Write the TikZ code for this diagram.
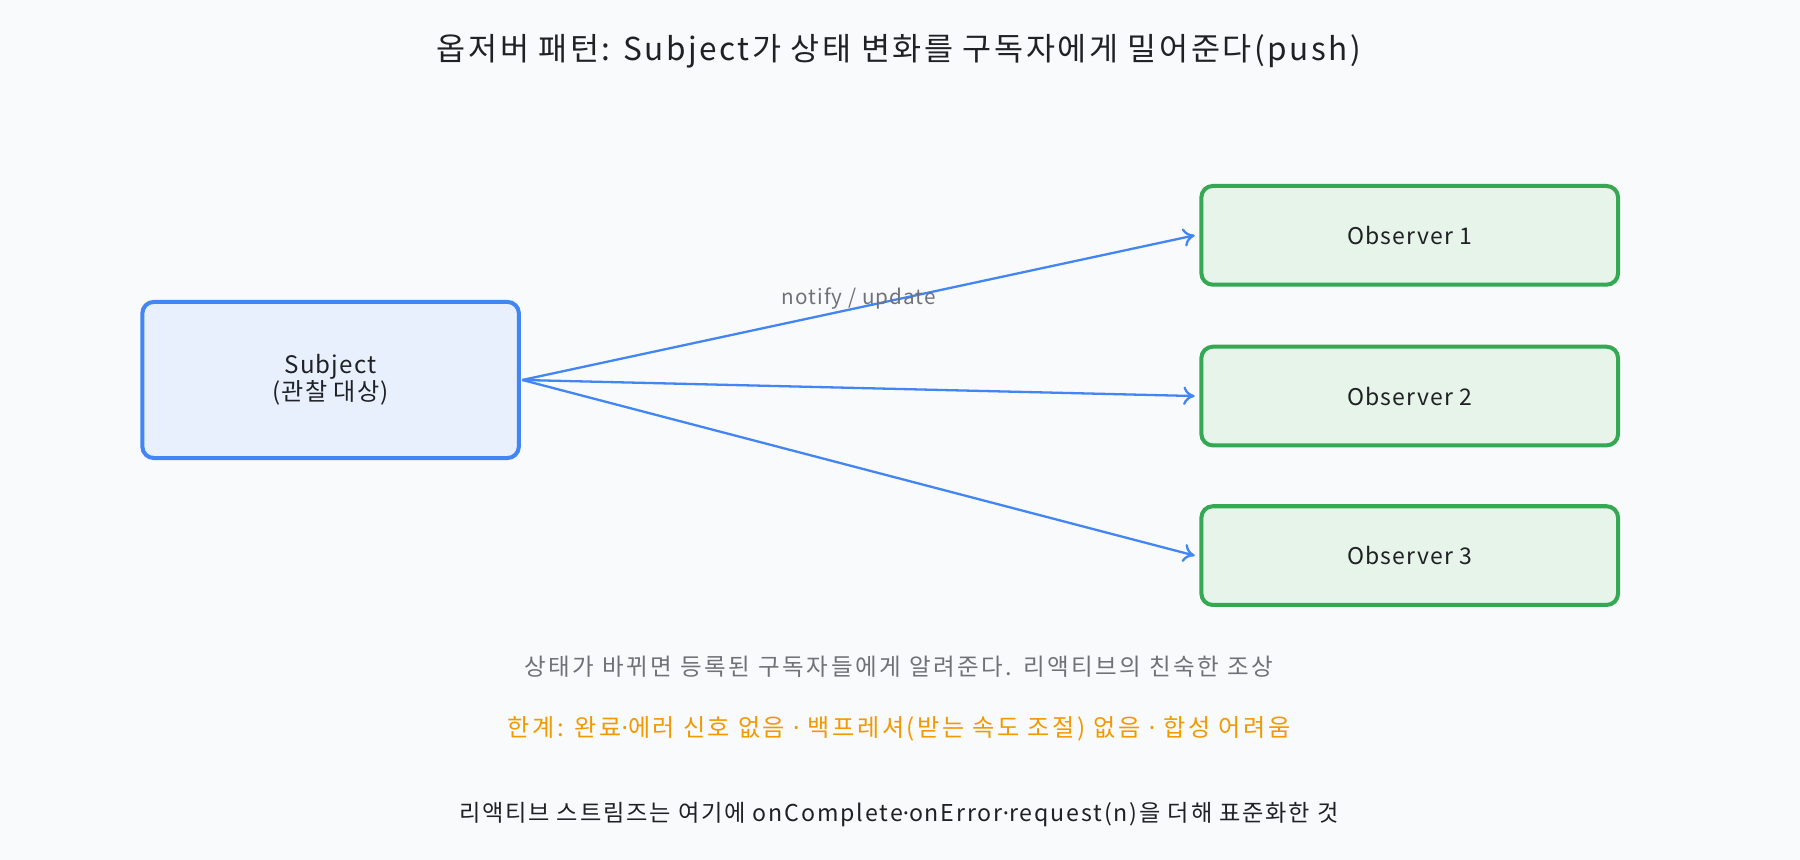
\documentclass[tikz,border=0pt]{standalone}
\usepackage{fontspec}
\setmainfont{Noto Sans CJK KR}
\newfontfamily\wideA[LetterSpace=8]{Noto Sans CJK KR}
\newfontfamily\wideB[LetterSpace=11]{Noto Sans CJK KR}
\newfontfamily\wideC[LetterSpace=5]{Noto Sans CJK KR}
\newfontfamily\dotfont{Noto Sans}
\newcommand{\mdot}{{\dotfont ·}}
\usetikzlibrary{arrows.meta}
\definecolor{bg}{HTML}{F9FAFC}
\definecolor{sb}{HTML}{4285F4}
\definecolor{sf}{HTML}{E8F0FE}
\definecolor{ob}{HTML}{34A853}
\definecolor{of}{HTML}{E6F4EA}
\definecolor{tx}{HTML}{202124}
\definecolor{gr}{HTML}{6F7378}
\definecolor{org}{HTML}{F29900}
\begin{document}
\begin{tikzpicture}[x=1pt,y=-1pt,
 subj/.style={draw=sb,fill=sf,line width=3.5pt,rounded corners=10pt,minimum width=328pt,minimum height=136pt,align=center,font=\wideC\fontsize{21}{24}\selectfont,text=tx},
 obs/.style={draw=ob,fill=of,line width=3.5pt,rounded corners=10pt,minimum width=363pt,minimum height=86pt,font=\wideC\fontsize{20}{23}\selectfont,text=tx},
 arr/.style={draw=sb,line width=2pt,-{To[length=10pt,width=16pt]}}]
\fill[bg] (0,0) rectangle (1568,749);
\useasboundingbox (0,0) rectangle (1568,749);
\node[font=\wideA\fontsize{27.5}{30}\selectfont,text=tx] (title) at (783,45) {옵저버 패턴: Subject가 상태 변화를 구독자에게 밀어준다(push)};
\node[subj] (s) at (288,331) {Subject\\(관찰 대상)};
\node[obs] (o1) at (1228,205) {Observer 1};
\node[obs] (o2) at (1228,345) {Observer 2};
\node[obs] (o3) at (1228,484) {Observer 3};
\coordinate (p) at (455,331);
\draw[arr] (p) -- ([xshift=-4pt]o1.west);
\draw[arr] (p) -- ([xshift=-4pt]o2.west);
\draw[arr] (p) -- ([xshift=-4pt]o3.west);
\node[text=gr,font=\wideC\fontsize{18}{20}\selectfont] (nl) at (748,260) {notify / update};
\node[text=gr,font=\wideB\fontsize{20.5}{23}\selectfont] (t1) at (783,581) {상태가 바뀌면 등록된 구독자들에게 알려준다. 리액티브의 친숙한 조상};
\node[text=org,font=\wideB\fontsize{21}{23}\selectfont] (t2) at (783,635) {한계: 완료\mdot 에러 신호 없음 \mdot\ 백프레셔(받는 속도 조절) 없음 \mdot\ 합성 어려움};
\node[font=\wideA\fontsize{20.2}{23}\selectfont,text=tx] (t3) at (783,710) {리액티브 스트림즈는 여기에 onComplete\mdot onError\mdot request(n)을 더해 표준화한 것};
\end{tikzpicture}
\end{document}
